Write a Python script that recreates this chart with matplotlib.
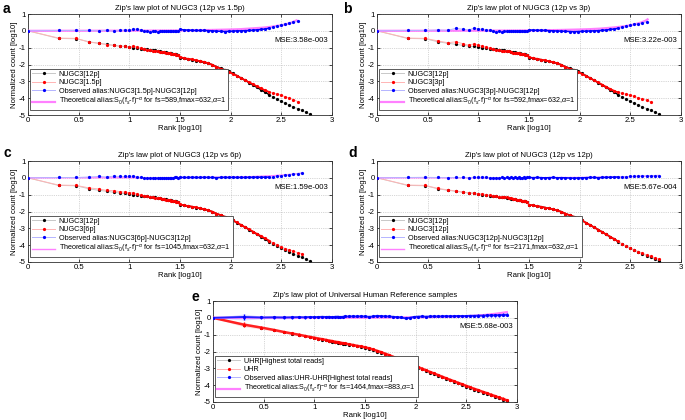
import matplotlib
matplotlib.use("Agg")
import matplotlib.pyplot as plt
import numpy as np

plt.rcParams['font.family'] = ['Liberation Sans', 'DejaVu Sans']
plt.rcParams['mathtext.fontset'] = 'custom'
plt.rcParams['mathtext.rm'] = 'Liberation Sans'
plt.rcParams['mathtext.it'] = 'Liberation Sans:italic'

# ---------------- data (log10 rank, log10 normalized count) ----------------
X_HEAD = [0, 0.301, 0.477, 0.602, 0.699, 0.778, 0.845, 0.903, 0.954, 1.0,
          1.041, 1.079, 1.114, 1.146, 1.176, 1.204, 1.230, 1.255, 1.279, 1.301,
          1.322, 1.342, 1.362, 1.380, 1.398, 1.415, 1.431, 1.447, 1.462, 1.477]
X_TAIL = [1.50, 1.54, 1.58, 1.62, 1.66, 1.70, 1.74, 1.78, 1.82, 1.86, 1.90,
          1.94, 1.98, 2.02, 2.06, 2.10, 2.14, 2.18, 2.22, 2.26, 2.30, 2.34,
          2.38, 2.42, 2.46, 2.50, 2.54, 2.58, 2.62, 2.66, 2.70, 2.74, 2.78]
X_GRID = X_HEAD + X_TAIL

NUGC3_12P = [0, -0.45, -0.47, -0.65, -0.74, -0.80, -0.86, -0.90, -0.93, -0.97,
             -1.00, -1.03, -1.05, -1.08, -1.10, -1.12, -1.14, -1.16, -1.18, -1.21,
             -1.24, -1.26, -1.28, -1.30, -1.32, -1.34, -1.36, -1.38, -1.40, -1.43,
             -1.60, -1.64, -1.68, -1.72, -1.77, -1.82, -1.87, -1.93, -2.02, -2.13,
             -2.22, -2.31, -2.40, -2.53, -2.66, -2.80, -2.93, -3.07, -3.21, -3.36,
             -3.50, -3.64, -3.79, -3.93, -4.06, -4.19, -4.30, -4.41, -4.52, -4.62,
             -4.72, -4.83, -4.95]

NUGC3_1P5 = [0, -0.43, -0.45, -0.67, -0.74, -0.82, -0.87, -0.91, -0.92, -0.98,
             -0.92, -0.96, -1.03, -1.10, -1.12, -1.15, -1.17, -1.19, -1.21, -1.23,
             -1.26, -1.28, -1.30, -1.32, -1.34, -1.36, -1.38, -1.40, -1.42, -1.45,
             -1.55, -1.62, -1.66, -1.70, -1.75, -1.80, -1.85, -1.92, -2.02, -2.14,
             -2.24, -2.34, -2.42, -2.55, -2.66, -2.80, -2.92, -3.05, -3.17, -3.30,
             -3.42, -3.53, -3.63, -3.70, -3.76, -3.82, -3.92, -4.00, -4.08, -4.20]
ALIAS_1P5 = [0, 0.02, 0.02, 0.02, 0.0, 0.03, -0.03, 0.02, 0.04, 0.02,
             0.10, 0.10, 0.05, -0.03, -0.02, -0.04, -0.03, -0.03, -0.04, -0.02,
             -0.03, -0.03, -0.02, -0.03, -0.02, -0.03, -0.02, -0.02, -0.03, -0.02,
             0.08, 0.06, 0.04, 0.03, 0.02, 0.02, 0.02, 0.01, 0.0, -0.02,
             -0.03, -0.04, -0.03, -0.02, 0.0, 0.0, 0.01, 0.02, 0.04, 0.06,
             0.08, 0.11, 0.16, 0.22, 0.29, 0.35, 0.39, 0.44, 0.50, 0.56]
THEO_X_1P5 = [0, 1.0, 1.5, 1.8, 2.0, 2.1, 2.2, 2.3, 2.4, 2.45, 2.5, 2.55, 2.6, 2.65]
THEO_Y_1P5 = [0.0, 0.01, 0.02, 0.05, 0.08, 0.10, 0.14, 0.18, 0.24, 0.29, 0.33, 0.40, 0.49, 0.62]

NUGC3_3P = [0, -0.43, -0.45, -0.60, -0.71, -0.65, -0.76, -0.85, -0.78, -0.85,
            -0.92, -0.98, -1.03, -1.10, -1.15, -1.15, -1.18, -1.18, -1.21, -1.21,
            -1.26, -1.29, -1.29, -1.32, -1.32, -1.35, -1.38, -1.38, -1.41, -1.43,
            -1.56, -1.62, -1.66, -1.71, -1.76, -1.81, -1.86, -1.92, -2.03, -2.14,
            -2.24, -2.33, -2.42, -2.54, -2.67, -2.80, -2.93, -3.06, -3.19, -3.32,
            -3.45, -3.56, -3.66, -3.72, -3.76, -3.82, -3.90, -3.98, -4.05, -4.12,
            -4.22]
ALIAS_3P = [0, 0.02, 0.02, 0.05, 0.03, 0.15, 0.10, 0.05, 0.15, 0.12,
            0.08, 0.05, 0.02, -0.02, -0.05, -0.03, -0.04, -0.02, -0.03, 0.0,
            -0.02, -0.03, -0.01, -0.02, 0.0, -0.01, -0.02, 0.0, -0.01, 0.0,
            0.05, 0.04, 0.03, 0.03, 0.02, 0.01, 0.0, -0.01, -0.02, -0.03,
            -0.04, -0.05, -0.04, -0.03, -0.02, -0.01, 0.0, 0.01, 0.03, 0.05,
            0.08, 0.11, 0.15, 0.20, 0.26, 0.32, 0.38, 0.42, 0.46, 0.55]
THEO_X_3P = [0, 1.0, 1.5, 1.8, 2.0, 2.1, 2.2, 2.3, 2.4, 2.45, 2.5, 2.55, 2.6, 2.65, 2.67]
THEO_Y_3P = [0.0, 0.01, 0.02, 0.05, 0.08, 0.10, 0.13, 0.18, 0.24, 0.28, 0.33, 0.40, 0.48, 0.60, 0.68]

NUGC3_6P = [0, -0.43, -0.45, -0.60, -0.66, -0.75, -0.76, -0.82, -0.85, -0.88,
            -0.90, -0.98, -1.03, -1.08, -1.10, -1.13, -1.15, -1.17, -1.19, -1.22,
            -1.25, -1.27, -1.29, -1.31, -1.33, -1.35, -1.37, -1.39, -1.41, -1.44,
            -1.58, -1.63, -1.67, -1.71, -1.76, -1.81, -1.86, -1.92, -2.01, -2.12,
            -2.21, -2.30, -2.39, -2.52, -2.65, -2.79, -2.92, -3.05, -3.19, -3.33,
            -3.46, -3.60, -3.73, -3.86, -3.98, -4.10, -4.20, -4.28, -4.36, -4.44,
            -4.50]
ALIAS_6P = [0, 0.02, 0.02, 0.05, 0.08, 0.05, 0.10, 0.08, 0.08, 0.09,
            0.10, 0.05, 0.02, 0.0, -0.02, -0.02, -0.01, 0.0, 0.0, -0.01,
            0.0, -0.01, 0.0, 0.01, 0.0, 0.0, 0.01, 0.02, 0.02, 0.0,
            0.03, 0.02, 0.02, 0.03, 0.02, 0.02, 0.03, 0.02, 0.02, 0.01,
            0.02, 0.03, 0.02, 0.03, 0.02, 0.02, 0.02, 0.03, 0.03, 0.04,
            0.03, 0.04, 0.04, 0.05, 0.08, 0.12, 0.15, 0.18, 0.21, 0.25, 0.28]
THEO_X_6P = [0, 1.0, 1.5, 2.0, 2.2, 2.4, 2.5, 2.6, 2.7]
THEO_Y_6P = [0.0, 0.004, 0.013, 0.04, 0.07, 0.12, 0.16, 0.21, 0.28]

NUGC3_12P_B = [0, -0.43, -0.45, -0.63, -0.72, -0.78, -0.84, -0.89, -0.90, -0.95,
               -0.95, -1.01, -1.04, -1.07, -1.10, -1.11, -1.12, -1.15, -1.16, -1.20,
               -1.22, -1.25, -1.26, -1.29, -1.30, -1.33, -1.35, -1.36, -1.39, -1.41,
               -1.60, -1.64, -1.67, -1.72, -1.77, -1.82, -1.87, -1.93, -2.02, -2.12,
               -2.22, -2.30, -2.40, -2.52, -2.66, -2.79, -2.93, -3.07, -3.21, -3.35,
               -3.49, -3.63, -3.78, -3.92, -4.05, -4.17, -4.28, -4.38, -4.48, -4.58,
               -4.66, -4.75, -4.82]
ALIAS_12P = [0, 0.02, 0.03, 0.02, 0.01, 0.02, 0.02, 0.01, 0.03, 0.02,
             0.05, 0.02, 0.01, 0.01, 0.0, 0.01, 0.02, 0.01, 0.02, 0.01,
             0.02, 0.01, 0.02, 0.01, 0.02, 0.01, 0.01, 0.02, 0.01, 0.02,
             0.02, 0.01, 0.02, 0.01, 0.0, 0.01, 0.02, 0.0, 0.01, 0.0,
             -0.01, -0.02, -0.01, 0.0, 0.01, 0.02, 0.02, 0.01, 0.02, 0.03,
             0.03, 0.04, 0.05, 0.06, 0.07, 0.08, 0.09, 0.10, 0.11, 0.12,
             0.12, 0.13, 0.13]
THEO_X_12P = [0, 1.5, 2.0, 2.2, 2.4, 2.5, 2.6, 2.7, 2.78]
THEO_Y_12P = [0, 0.006, 0.02, 0.03, 0.05, 0.07, 0.09, 0.11, 0.14]

# ---- panel e : Universal Human Reference ----
E_X = [0, 0.301, 0.477, 0.602, 0.699, 0.778, 0.845, 0.903, 0.954, 1.0,
       1.041, 1.079, 1.114, 1.146, 1.176, 1.204, 1.230, 1.255, 1.279, 1.301,
       1.34, 1.38, 1.42, 1.46, 1.50, 1.54, 1.58, 1.62, 1.66, 1.70,
       1.74, 1.78, 1.82, 1.86, 1.90, 1.94, 1.98, 2.02, 2.06, 2.10,
       2.14, 2.18, 2.22, 2.26, 2.30, 2.34, 2.38, 2.42, 2.46, 2.50,
       2.54, 2.58, 2.62, 2.66, 2.70, 2.74, 2.78, 2.82, 2.86, 2.90]
UHR = [0, -0.40, -0.58, -0.72, -0.84, -0.93, -1.00, -1.07, -1.13, -1.18,
       -1.23, -1.27, -1.31, -1.35, -1.38, -1.42, -1.44, -1.47, -1.50, -1.52,
       -1.57, -1.61, -1.66, -1.70, -1.75, -1.81, -1.88, -1.96, -2.04, -2.13,
       -2.22, -2.32, -2.42, -2.52, -2.62, -2.72, -2.82, -2.92, -3.01, -3.11,
       -3.21, -3.30, -3.40, -3.49, -3.59, -3.68, -3.77, -3.86, -3.95, -4.04,
       -4.13, -4.22, -4.30, -4.39, -4.47, -4.56, -4.64, -4.73, -4.81, -4.90]
UHR_TOP = [0, -0.43, -0.60, -0.74, -0.86, -0.95, -1.02, -1.09, -1.15, -1.20,
           -1.25, -1.30, -1.34, -1.38, -1.41, -1.45, -1.47, -1.50, -1.53, -1.55,
           -1.60, -1.64, -1.69, -1.74, -1.79, -1.85, -1.92, -2.00, -2.08, -2.17,
           -2.26, -2.36, -2.46, -2.56, -2.66, -2.76, -2.86, -2.96, -3.05, -3.15,
           -3.25, -3.34, -3.44, -3.53, -3.63, -3.72, -3.81, -3.90, -3.99, -4.08,
           -4.17, -4.26, -4.35, -4.44, -4.52, -4.61, -4.70, -4.79, -4.87, -4.96]
UHR_ERR = [0, 0.13, 0.09, 0.08, 0.08, 0.07, 0.07, 0.07, 0.06, 0.06,
           0.06, 0.06, 0.05, 0.05, 0.05, 0.05, 0.05, 0.05, 0.05, 0.05,
           0.05, 0.05, 0.05, 0.05, 0.05, 0.05, 0.05, 0.05, 0.05, 0.06,
           0.06, 0.06, 0.06, 0.06, 0.07, 0.07, 0.07, 0.07, 0.06, 0.06,
           0.06, 0.06, 0.06, 0.06, 0.06, 0.06, 0.06, 0.06, 0.06, 0.06,
           0.06, 0.07, 0.07, 0.07, 0.07, 0.08, 0.08, 0.08, 0.08, 0.08]
ALIAS_UHR = [0, 0.05, 0.02, 0.03, 0.02, 0.03, 0.04, 0.03, 0.05, 0.04,
             0.05, 0.06, 0.05, 0.06, 0.04, 0.06, 0.07, 0.05, 0.06, 0.08,
             0.08, 0.09, 0.08, 0.09, 0.08, 0.06, 0.08, 0.12, 0.10, 0.09,
             0.08, 0.06, 0.04, 0.02, -0.03, 0.0, 0.05, 0.07, 0.08, 0.07,
             0.08, 0.09, 0.08, 0.09, 0.10, 0.09, 0.10, 0.11, 0.10, 0.11,
             0.12, 0.12, 0.13, 0.13, 0.14, 0.15, 0.15, 0.16, 0.17, 0.18]
ALIAS_UHR_ERR = [0, 0.18, 0.08, 0.08, 0.08, 0.08, 0.07, 0.08, 0.07, 0.07,
                 0.07, 0.06, 0.06, 0.06, 0.06, 0.06, 0.06, 0.06, 0.06, 0.06,
                 0.05, 0.05, 0.05, 0.05, 0.05, 0.05, 0.05, 0.05, 0.04, 0.04,
                 0.04, 0.04, 0.05, 0.05, 0.05, 0.04, 0.04, 0.04, 0.04, 0.04,
                 0.05, 0.05, 0.05, 0.05, 0.06, 0.06, 0.06, 0.06, 0.06, 0.07,
                 0.07, 0.07, 0.07, 0.08, 0.08, 0.08, 0.08, 0.09, 0.09, 0.09]
THEO_X_UHR = [0, 1.5, 2.0, 2.2, 2.4, 2.5, 2.6, 2.7, 2.8, 2.9]
THEO_Y_UHR = [0, 0.01, 0.03, 0.05, 0.08, 0.10, 0.13, 0.18, 0.25, 0.34]

X_TICKS = [0, 0.5, 1, 1.5, 2, 2.5, 3]
X_TICKLABELS = ['0', '0.5', '1', '1.5', '2', '2.5', '3']
Y_TICKS = [1, 0, -1, -2, -3, -4, -5]
Y_TICKLABELS = ['1', '0', '-1', '-2', '-3', '-4', '-5']

PANELS = [
    dict(letter='a', title="Zip's law plot of NUGC3 (12p vs 1.5p)", ref='NUGC3[12p]',
         other='NUGC3[1.5p]', alias='Observed alias:NUGC3[1.5p]-NUGC3[12p]',
         ref_y=NUGC3_12P, oth_y=NUGC3_1P5, ali_y=ALIAS_1P5,
         tx=THEO_X_1P5, ty=THEO_Y_1P5, fs=589, fmax=632, mse='MSE:3.58e-003', tlw=1.6),
    dict(letter='b', title="Zip's law plot of NUGC3 (12p vs 3p)", ref='NUGC3[12p]',
         other='NUGC3[3p]', alias='Observed alias:NUGC3[3p]-NUGC3[12p]',
         ref_y=NUGC3_12P, oth_y=NUGC3_3P, ali_y=ALIAS_3P,
         tx=THEO_X_3P, ty=THEO_Y_3P, fs=592, fmax=632, mse='MSE:3.22e-003', tlw=1.6),
    dict(letter='c', title="Zip's law plot of NUGC3 (12p vs 6p)", ref='NUGC3[12p]',
         other='NUGC3[6p]', alias='Observed alias:NUGC3[6p]-NUGC3[12p]',
         ref_y=NUGC3_12P, oth_y=NUGC3_6P, ali_y=ALIAS_6P,
         tx=THEO_X_6P, ty=THEO_Y_6P, fs=1045, fmax=632, mse='MSE:1.59e-003', tlw=1.0),
    dict(letter='d', title="Zip's law plot of NUGC3 (12p vs 12p)", ref='NUGC3[12p]',
         other='NUGC3[12p]', alias='Observed alias:NUGC3[12p]-NUGC3[12p]',
         ref_y=NUGC3_12P, oth_y=NUGC3_12P_B, ali_y=ALIAS_12P,
         tx=THEO_X_12P, ty=THEO_Y_12P, fs=2171, fmax=632, mse='MSE:5.67e-004', tlw=1.0),
]

W, H = 685, 420
fig = plt.figure(figsize=(W / 100, H / 100), dpi=100)

AX_W, AX_H = 304 / W, 101 / H
POS = {'a': (28, 115), 'b': (377, 115), 'c': (28, 262), 'd': (377, 262), 'e': (213, 402)}
LETTER_POS = {'a': (3, 9), 'b': (343, 9), 'c': (3, 153), 'd': (348, 153), 'e': (191, 297)}

FS = 5.6
LFS = 5.2
MS = 2.6
C_BLACK_LINE = '#c8c8c8'
C_RED_LINE = '#ffb4b4'
C_BLUE_LINE = '#b4b4ff'
C_MAG = '#ff80ff'
DENSE_LO, DENSE_HI = 1.49, 2.40


def style_axes(ax, title):
    ax.set_xlim(0, 3)
    ax.set_ylim(-5, 1)
    ax.set_xticks(X_TICKS)
    ax.set_xticklabels(X_TICKLABELS)
    ax.set_yticks(Y_TICKS)
    ax.set_yticklabels(Y_TICKLABELS)
    ax.tick_params(labelsize=FS, length=2, width=0.5, pad=1.5, direction='in',
                   top=True, right=True)
    ax.grid(True, linestyle=':', linewidth=0.5, color='#b0b0b0')
    for s in ax.spines.values():
        s.set_linewidth(0.6)
        s.set_color('#303030')
    ax.set_title(title, fontsize=FS, pad=3)
    ax.set_xlabel('Rank [log10]', fontsize=FS, labelpad=1)
    ax.set_ylabel('Normalized count [log10]', fontsize=FS, labelpad=1)


def make_legend(ax, labels, handles):
    leg = ax.legend(handles, labels, loc='lower left', bbox_to_anchor=(0.006, 0.045),
                    borderaxespad=0, fontsize=LFS, handlelength=3.2,
                    labelspacing=0.2, borderpad=0.3, handletextpad=0.5,
                    fancybox=False, framealpha=1, edgecolor='#404040', numpoints=1)
    leg.get_frame().set_linewidth(0.6)


def dense_overlay(ax, xs, ys, color, lw, z):
    """Ranks are so close together in the mid range that the dots merge into a line."""
    xs = np.asarray(xs)
    ys = np.asarray(ys)
    m = (xs >= DENSE_LO) & (xs <= DENSE_HI)
    ax.plot(xs[m], ys[m], '-', color=color, lw=lw, zorder=z, solid_capstyle='round')


for p in PANELS:
    l, b = POS[p['letter']]
    ax = fig.add_axes([l / W, 1 - b / H, AX_W, AX_H])
    style_axes(ax, p['title'])
    ry, oy, ay = p['ref_y'], p['oth_y'], p['ali_y']
    h1, = ax.plot(X_GRID[:len(ry)], ry, '-', color=C_BLACK_LINE, lw=0.7,
                  marker='.', ms=MS, mfc='k', mec='k', zorder=2)
    dense_overlay(ax, X_GRID[:len(ry)], ry, 'k', 1.1, 2)
    h2, = ax.plot(X_GRID[:len(oy)], oy, '-', color=C_RED_LINE, lw=0.7,
                  marker='.', ms=MS, mfc='r', mec='r', zorder=3)
    dense_overlay(ax, X_GRID[:len(oy)], oy, 'r', 1.2, 3)
    h4, = ax.plot(p['tx'], p['ty'], '-', color=C_MAG, lw=p['tlw'], zorder=3.5)
    h3, = ax.plot(X_GRID[:len(ay)], ay, '-', color=C_BLUE_LINE, lw=0.7,
                  marker='.', ms=MS, mfc='b', mec='b', zorder=4)
    dense_overlay(ax, X_GRID[:len(ay)], ay, 'b', 1.1, 4)
    ax.text(2.43, -0.55, p['mse'], fontsize=FS, va='center', ha='left')
    theo = (r'Theoretical alias:S$_0$(f$_s$-f)$^{-\alpha}$ for fs=%d,fmax=%d,$\alpha$=1'
            % (p['fs'], p['fmax']))
    make_legend(ax, [p['ref'], p['other'], p['alias'], theo], [h1, h2, h3, h4])
    lx, ly = LETTER_POS[p['letter']]
    fig.text(lx / W, 1 - ly / H, p['letter'], fontsize=10, fontweight='bold',
             ha='left', va='center')

# ---- panel e ----
l, b = POS['e']
ax = fig.add_axes([l / W, 1 - b / H, AX_W, AX_H])
style_axes(ax, "Zip's law plot of Universal Human Reference samples")
uhr = np.array(UHR)
uerr = np.array(UHR_ERR)
ali = np.array(ALIAS_UHR)
aerr = np.array(ALIAS_UHR_ERR)
ax.fill_between(E_X, uhr - uerr, uhr + uerr, color='#ffc8c8', alpha=0.6, lw=0, zorder=1)
ax.fill_between(E_X, ali - aerr, ali + aerr, color='#c8c8ff', alpha=0.6, lw=0, zorder=1)
h1, = ax.plot(E_X, UHR_TOP, '-', color=C_BLACK_LINE, lw=0.7, marker='.', ms=MS,
              mfc='k', mec='k', zorder=2)
ax.errorbar(E_X, UHR, yerr=UHR_ERR, fmt='none', ecolor='r', elinewidth=1.0, zorder=3)
h2, = ax.plot(E_X, UHR, '-', color='#ff2020', lw=1.8, marker='.', ms=MS,
              mfc='r', mec='r', zorder=3)
h4, = ax.plot(THEO_X_UHR, THEO_Y_UHR, '-', color=C_MAG, lw=1.6, zorder=3.5)
ax.errorbar(E_X, ALIAS_UHR, yerr=ALIAS_UHR_ERR, fmt='none', ecolor='b',
            elinewidth=1.0, zorder=4)
h3, = ax.plot(E_X, ALIAS_UHR, '-', color='#2020ff', lw=1.4, marker='.', ms=MS,
              mfc='b', mec='b', zorder=4)
ax.text(2.43, -0.5, 'MSE:5.68e-003', fontsize=FS, va='center', ha='left')
theo = r'Theoretical alias:S$_0$(f$_s$-f)$^{-\alpha}$ for fs=1464,fmax=883,$\alpha$=1'
h2l, = ax.plot([], [], '-', color=C_RED_LINE, lw=0.7, marker='.', ms=MS, mfc='r', mec='r')
h3l, = ax.plot([], [], '-', color=C_BLUE_LINE, lw=0.7, marker='.', ms=MS, mfc='b', mec='b')
make_legend(ax, ['UHR[Highest total reads]', 'UHR',
                 'Observed alias:UHR-UHR[Highest total reads]', theo], [h1, h2l, h3l, h4])
lx, ly = LETTER_POS['e']
fig.text(lx / W, 1 - ly / H, 'e', fontsize=10, fontweight='bold', ha='left', va='center')

fig.savefig('out.png', dpi=100, facecolor='white')
